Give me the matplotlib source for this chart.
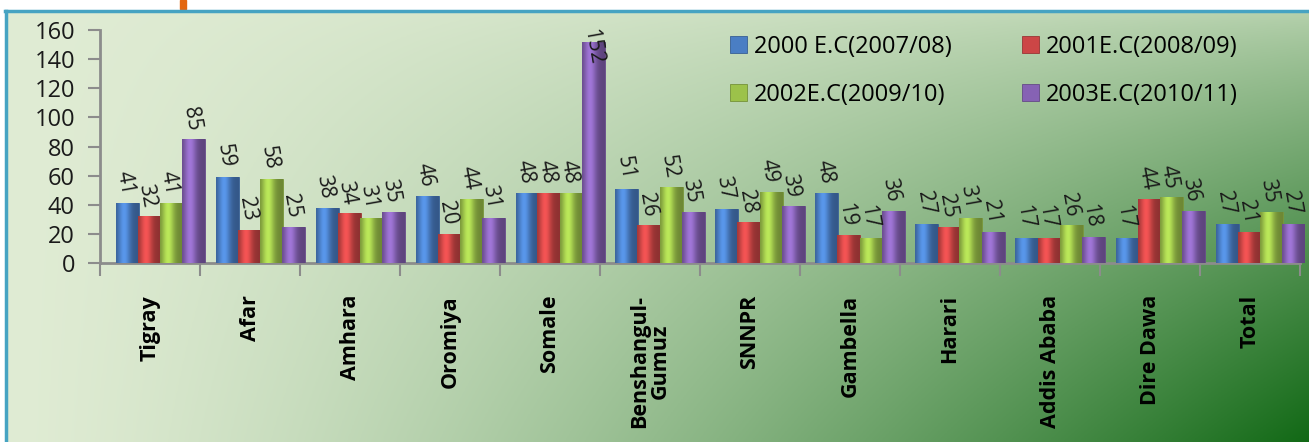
import matplotlib.pyplot as plt
import numpy as np
from matplotlib.patches import Rectangle
from matplotlib.colors import to_rgb

plt.rcParams['font.family'] = ['Open Sans', 'DejaVu Sans']

regions = ['Tigray', 'Afar', 'Amhara', 'Oromiya', 'Somale', 'Benshangul-\nGumuz',
           'SNNPR', 'Gambella', 'Harari', 'Addis Ababa', 'Dire Dawa', 'Total']
series = ['2000 E.C(2007/08)', '2001E.C(2008/09)', '2002E.C(2009/10)', '2003E.C(2010/11)']
y2000 = [41, 59, 38, 46, 48, 51, 37, 48, 27, 17, 17, 27]
y2001 = [32, 23, 34, 20, 48, 26, 28, 19, 25, 17, 44, 21]
y2002 = [41, 58, 31, 44, 48, 52, 49, 17, 31, 26, 45, 35]
y2003 = [85, 25, 35, 31, 152, 35, 39, 36, 21, 18, 36, 27]
values = [y2000, y2001, y2002, y2003]
colors = ['#4a7ec4', '#cc4646', '#9cc24a', '#8662b4']

W, H = 1309, 442
fig = plt.figure(figsize=(W / 100, H / 100), dpi=100)

# panel background: light green top-left to dark green bottom-right
bg = fig.add_axes([6 / W, 0, 1 - 6 / W, 1 - 11 / H])
bg.set_axis_off()
xx, yy = np.meshgrid(np.linspace(0, 1, 400), np.linspace(0, 1, 200))
t = np.clip(xx ** 1.4 * (0.2 + 0.8 * yy ** 0.8), 0, 1)
light = np.array([224, 236, 212]) / 255
dark = np.array([18, 105, 22]) / 255
img = light[None, None, :] * (1 - t[..., None]) + dark[None, None, :] * t[..., None]
bg.imshow(img, aspect='auto', extent=[0, 1, 0, 1], origin='upper')
bg.set_xlim(0, 1)
bg.set_ylim(0, 1)

# teal frame lines (top and left)
fig.add_artist(plt.Line2D([5 / W, 1], [1 - 11 / H, 1 - 11 / H], color='#46a3c2', lw=2.5))
fig.add_artist(plt.Line2D([6 / W, 6 / W], [0, 1 - 11 / H], color='#46a3c2', lw=2.5))
# bit of the cropped orange title above the panel
fig.add_artist(Rectangle((180 / W, 1 - 9 / H), 6 / W, 9 / H, color='#e3670f',
                         transform=fig.transFigure))

ax = fig.add_axes([100 / W, 1 - 263 / H, 1200 / W, 233 / H])
ax.patch.set_alpha(0)

n = len(regions)
bw = 0.23
u = np.linspace(0, 1, 32)
shade = 0.7 + 0.5 * np.exp(-((u - 0.35) / 0.28) ** 2)
handles = []
for j, (vals, c) in enumerate(zip(values, colors)):
    xs = np.arange(n) + 0.5 + 0.1 + (j - 1.5) * 0.22
    bars = ax.bar(xs, vals, width=bw, color=c, edgecolor=np.array(to_rgb(c)) * 0.75,
                  lw=0.6, label=series[j], zorder=3)
    handles.append(bars)
    grad = np.clip(np.array(to_rgb(c))[None, None, :] * shade[None, :, None], 0, 1)
    for b in bars:
        im = ax.imshow(grad, extent=[b.get_x(), b.get_x() + bw, 0, b.get_height()],
                       aspect='auto', zorder=3.5, interpolation='bilinear')
        im.set_clip_path(b)
    for x, v in zip(xs, vals):
        if v + 28 > 160:
            ax.text(x, 162, str(v), rotation=-80, ha='center', va='top', fontsize=15,
                    color='#1a1a1a', zorder=5, clip_on=False)
        else:
            ax.text(x - 0.02, v + 5, str(v), rotation=-80, ha='center', va='bottom',
                    fontsize=15, color='#1a1a1a', zorder=5)

ax.set_xlim(0, n)
ax.set_ylim(0, 160)
ax.set_yticks(np.arange(0, 161, 20))
ax.set_xticks(np.arange(0, n + 1))
ax.set_xticklabels([])
ax.set_xticks(np.arange(n) + 0.5, minor=True)
ax.set_xticklabels(regions, minor=True, rotation=90, fontsize=15.5, fontweight='bold',
                   va='top', ha='center', linespacing=0.95)
ax.tick_params(axis='x', which='minor', length=0, pad=23)
ax.tick_params(axis='x', which='major', length=9, width=1.5, color='#8c8c8c')
ax.tick_params(axis='y', length=9, width=1.5, color='#8c8c8c', labelsize=17, pad=9,
               labelcolor='#1a1a1a')
for s in ['top', 'right']:
    ax.spines[s].set_visible(False)
for s in ['left', 'bottom']:
    ax.spines[s].set_color('#8c8c8c')
    ax.spines[s].set_linewidth(2)

order = [0, 2, 1, 3]
ax.legend([handles[k] for k in order], [series[k] for k in order],
          loc='upper left', bbox_to_anchor=(730 / W, 1 - 35 / H),
          bbox_transform=fig.transFigure, ncol=2, frameon=False, fontsize=17,
          handlelength=0.7, handleheight=0.7, handletextpad=0.3,
          columnspacing=3.0, labelspacing=1.0, borderaxespad=0, borderpad=0)

fig.savefig('out.png', dpi=100)
